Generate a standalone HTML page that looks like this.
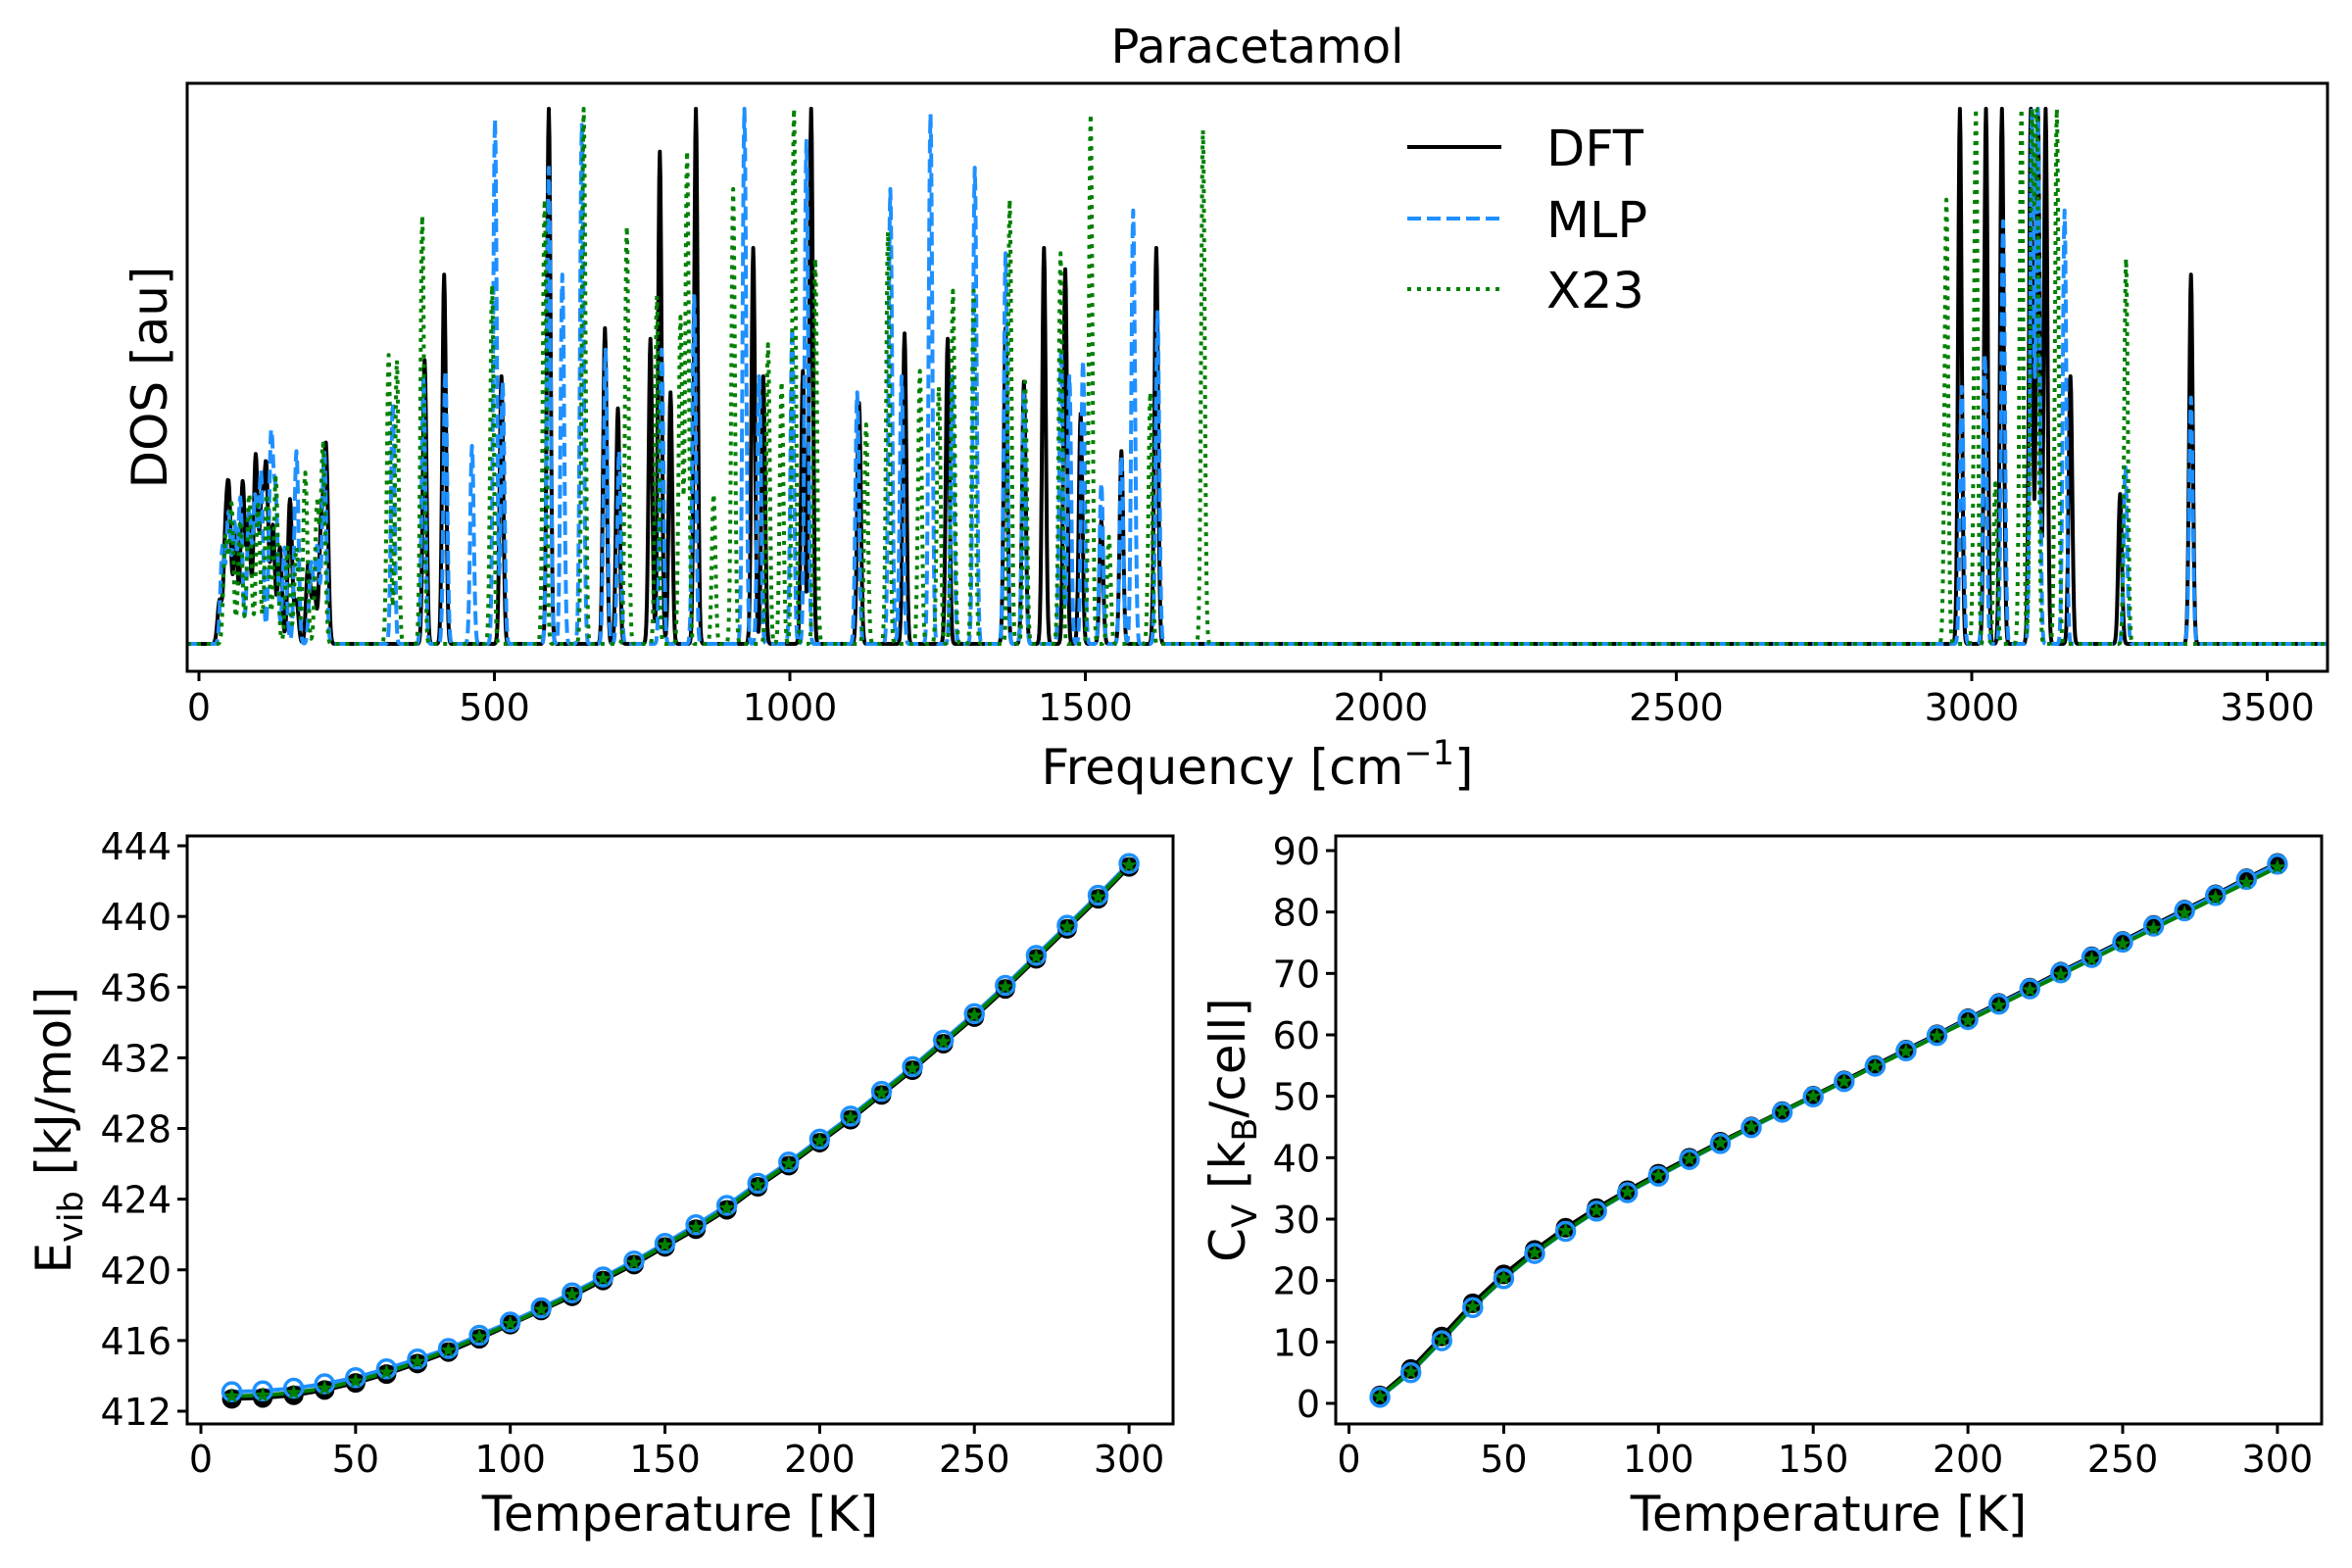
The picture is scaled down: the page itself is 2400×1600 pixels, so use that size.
<!DOCTYPE html>
<html><head><meta charset="utf-8"><style>
html,body{margin:0;padding:0;background:#fff;}
svg{display:block;font-family:"DejaVu Sans","Liberation Sans",sans-serif;}
</style></head><body>
<svg id="fig" xmlns="http://www.w3.org/2000/svg" width="2400" height="1600" viewBox="0 0 2400 1600">
<rect width="2400" height="1600" fill="#fff"/>
<defs>
<clipPath id="clipTop"><rect x="191" y="86" width="2184" height="598"/></clipPath>
<clipPath id="clipL"><rect x="191" y="853" width="1006" height="600"/></clipPath>
<clipPath id="clipR"><rect x="1363" y="853" width="1006" height="600"/></clipPath>
</defs>
<text x="1283" y="64" font-size="48" text-anchor="middle">Paracetamol</text>
<g id="dosLines" clip-path="url(#clipTop)"></g>
<rect x="191" y="85" width="2184" height="600" fill="none" stroke="#000" stroke-width="3"/>
<g id="dosTicks"></g>
<text x="1283" y="800" font-size="50" text-anchor="middle">Frequency [cm<tspan dy="-20" font-size="35">−1</tspan><tspan dy="20">]</tspan></text>
<text transform="translate(170,385) rotate(-90)" font-size="50" text-anchor="middle">DOS [au]</text>
<g>
<line x1="1436" y1="150" x2="1532" y2="150" stroke="#000" stroke-width="4"/>
<text x="1578" y="169" font-size="51">DFT</text>
<line x1="1436" y1="223" x2="1532" y2="223" stroke="#1e90ff" stroke-width="4" stroke-dasharray="14,6"/>
<text x="1578" y="242" font-size="51">MLP</text>
<line x1="1436" y1="295" x2="1532" y2="295" stroke="#008000" stroke-width="4" stroke-dasharray="4,6"/>
<text x="1578" y="314" font-size="51">X23</text>
</g>
<g id="leftPlot" clip-path="url(#clipL)"></g>
<rect x="191" y="853" width="1006" height="600" fill="none" stroke="#000" stroke-width="3"/>
<g id="leftTicks"></g>
<text x="694" y="1562" font-size="50" text-anchor="middle">Temperature [K]</text>
<text transform="translate(72,1153) rotate(-90)" font-size="50" text-anchor="middle">E<tspan dy="12" font-size="35">vib</tspan><tspan dy="-12"> [kJ/mol]</tspan></text>
<g id="rightPlot" clip-path="url(#clipR)"></g>
<rect x="1363" y="853" width="1006" height="600" fill="none" stroke="#000" stroke-width="3"/>
<g id="rightTicks"></g>
<text x="1866" y="1562" font-size="50" text-anchor="middle">Temperature [K]</text>
<text transform="translate(1270,1153) rotate(-90)" font-size="50" text-anchor="middle">C<tspan dy="12" font-size="35">V</tspan><tspan dy="-12"> [k</tspan><tspan dy="12" font-size="35">B</tspan><tspan dy="-12">/cell]</tspan></text>
</svg>
<script>
// ---- DOS data: peak frequencies (cm-1) and relative heights ----
const dftFreq = [35,45,51,62,74,84,96,106,114,125,137,154,165,185,195,207,215,
 382,415,512,592,687,709,764,780,798,841,938,955,1022,1036,1117,1194,1267,1365,1396,1430,1466,1492,1527,1561,1620,
 2980,3024,3051,3100,3112,3125,3167,3251,3371];
const dftHeight = [.08,.18,.25,.2,.3,.22,.35,.25,.32,.22,.18,.27,.08,.15,.1,.22,.36,
 .53,.69,.5,1.0,.59,.44,.57,.92,.47,1.0,.74,.5,.51,1.0,.45,.58,.57,.59,.49,.74,.7,.43,.23,.36,.74,
 1.0,1.0,1.0,1.0,1.0,1.0,.5,.28,.69];
const mlpFreq = [40,50,60,70,85,95,105,122,130,145,165,190,200,212,
 328,380,417,462,501,514,592,615,648,688,711,783,838,923,948,1004,1028,1114,1170,1189,1238,1275,1313,1365,1396,1459,1473,1496,1527,1561,1581,1622,
 2983,3022,3053,3102,3112,3157,3260,3371];
const mlpHeight = [.18,.24,.22,.27,.25,.27,.32,.38,.26,.18,.36,.15,.18,.36,
 .45,.5,.51,.37,.98,.49,.89,.69,.97,.55,.36,.55,.65,1.0,.5,.59,.94,.47,.85,.5,.99,.5,.89,.73,.47,.55,.5,.53,.3,.35,.81,.62,
 .48,.54,.79,1.0,1.0,.81,.33,.46];
const x23Freq = [45,55,70,85,100,115,130,150,165,180,200,210,
 321,335,378,496,585,651,724,775,815,826,871,904,963,986,1007,1043,1129,1166,1220,1252,1276,1311,1372,1398,1458,1509,1540,1610,1699,
 2957,3007,3040,3084,3102,3110,3144,3261];
const x23Height = [.2,.26,.23,.28,.26,.28,.31,.18,.18,.32,.26,.37,
 .54,.53,.8,.67,.83,1.0,.78,.65,.61,.92,.28,.85,.56,.49,1.0,.72,.41,.77,.51,.48,.66,.66,.83,.49,.73,.99,.2,.47,.96,
 .83,1.0,.3,1.0,1.0,1.0,1.0,.72];
const dosTickValues = [0,500,1000,1500,2000,2500,3000,3500];

// ---- Thermo data ----
const temps = [10,20,30,40,50,60,70,80,90,100,110,120,130,140,150,160,170,180,190,200,210,220,230,240,250,260,270,280,290,300];
const evibDFT = [412.7,412.75,412.9,413.2,413.6,414.1,414.7,415.35,416.1,416.9,417.7,418.5,419.4,420.3,421.3,422.3,423.4,424.7,425.9,427.2,428.5,429.9,431.3,432.8,434.3,435.9,437.6,439.3,441.0,442.8];
const evibMLP = [413.1,413.15,413.3,413.55,413.9,414.4,414.95,415.55,416.3,417.05,417.85,418.7,419.6,420.5,421.5,422.55,423.65,424.9,426.1,427.4,428.7,430.1,431.5,433.0,434.5,436.1,437.8,439.5,441.2,443.0];
const evibX23 = [412.85,412.9,413.05,413.3,413.7,414.2,414.8,415.45,416.2,416.95,417.75,418.6,419.5,420.4,421.4,422.4,423.5,424.8,426.0,427.3,428.6,430.0,431.4,432.9,434.4,436.0,437.7,439.4,441.1,442.9];
const cvDFT = [1.3,5.6,10.9,16.3,21.0,25.0,28.6,31.8,34.7,37.4,40.0,42.6,45.1,47.6,50.1,52.6,55.1,57.6,60.1,62.7,65.2,67.7,70.3,72.8,75.3,77.9,80.4,82.9,85.5,88.0];
const cvMLP = [1.0,5.0,10.2,15.6,20.3,24.4,28.0,31.3,34.3,37.0,39.7,42.3,44.9,47.4,49.9,52.4,54.9,57.4,59.9,62.5,65.0,67.5,70.1,72.6,75.1,77.7,80.2,82.7,85.3,87.8];
const cvX23 = [1.1,5.1,10.3,15.7,20.4,24.5,28.1,31.4,34.4,37.1,39.8,42.4,45.0,47.5,50.0,52.4,54.9,57.3,59.8,62.3,64.8,67.3,69.8,72.3,74.8,77.3,79.8,82.3,84.8,87.3];
const evibTicks = [412,416,420,424,428,432,436,440,444];
const cvTicks = [0,10,20,30,40,50,60,70,80,90];
const tempTicks = [0,50,100,150,200,250,300];

const NS = "http://www.w3.org/2000/svg";
function mk(tag, attrs, parent){ const e=document.createElementNS(NS,tag); for(const k in attrs) e.setAttribute(k,attrs[k]); parent.appendChild(e); return e; }

// DOS axes
const dosX = f => 203 + f * (301.5/500);
const dosY = h => 657 - h * 546;
const dosG = document.getElementById('dosLines');
function dosCurve(freqs, heights){
  let pts = [];
  for(let f=-20; f<=3610; f+=1){
    let s=0;
    for(let i=0;i<freqs.length;i++){
      const sig = freqs[i] < 250 ? 3.5 : 3;
      const d=(f-freqs[i])/sig; if(Math.abs(d)<6) s+=heights[i]*Math.exp(-0.5*d*d);
    }
    if(s>1) s=1;
    pts.push(dosX(f).toFixed(1)+","+dosY(s).toFixed(1));
  }
  return pts.join(" ");
}
const series = [
  {f:dftFreq,h:dftHeight,c:"#000",dash:"",name:"dos-line-dft"},
  {f:mlpFreq,h:mlpHeight,c:"#1e90ff",dash:"14,6",name:"dos-line-mlp"},
  {f:x23Freq,h:x23Height,c:"#008000",dash:"4,6",name:"dos-line-x23"}
];
series.forEach(s=>{
  const p = mk('polyline',{points:dosCurve(s.f,s.h),fill:"none",stroke:s.c,"stroke-width":4,"stroke-dasharray":s.dash,"stroke-linejoin":"round"},dosG);
  
  
});
const dosT = document.getElementById('dosTicks');
dosTickValues.forEach(v=>{
  const x=dosX(v);
  const l=mk('line',{x1:x,y1:685,x2:x,y2:695,stroke:"#000","stroke-width":3},dosT);
  
  
  const t=mk('text',{x:x,y:735,"font-size":38,"text-anchor":"middle"},dosT);
  
  
  t.textContent=v;
});

function drawThermo(gId, tId, xf, yf, yTicks, left, dft, mlp, x23, prefix){
  const g=document.getElementById(gId), tg=document.getElementById(tId);
  const path = arr => temps.map((t,i)=>xf(t).toFixed(1)+","+yf(arr[i]).toFixed(1)).join(" ");
  const sets=[{a:dft,c:"#000",n:"dft"},{a:mlp,c:"#1e90ff",n:"mlp"},{a:x23,c:"#008000",n:"x23"}];
  sets.forEach(s=>{
    const pl=mk('polyline',{points:path(s.a),fill:"none",stroke:s.c,"stroke-width":4},g);
    
    
  });
  temps.forEach((t,i)=>{
    const c1=mk('circle',{cx:xf(t),cy:yf(dft[i]),r:10,fill:"#000"},g);
    
    
  });
  temps.forEach((t,i)=>{
    const c2=mk('circle',{cx:xf(t),cy:yf(mlp[i]),r:9,fill:"none",stroke:"#1e90ff","stroke-width":3.5},g);
    
    
  });
  temps.forEach((t,i)=>{
    const cx=xf(t), cy=yf(x23[i]); let pts=[];
    for(let k=0;k<10;k++){ const r=k%2?3.5:8.5, a=-Math.PI/2+k*Math.PI/5; pts.push((cx+r*Math.cos(a)).toFixed(1)+","+(cy+r*Math.sin(a)).toFixed(1)); }
    const st=mk('polygon',{points:pts.join(" "),fill:"#008000"},g);
    
    
  });
  tempTicks.forEach(v=>{
    const x=xf(v);
    const l=mk('line',{x1:x,y1:1453,x2:x,y2:1463,stroke:"#000","stroke-width":3},tg);
    
    
    const t=mk('text',{x:x,y:1502,"font-size":38,"text-anchor":"middle"},tg);
    
    
    t.textContent=v;
  });
  yTicks.forEach(v=>{
    const y=yf(v);
    const l=mk('line',{x1:left-10,y1:y,x2:left,y2:y,stroke:"#000","stroke-width":3},tg);
    
    
    const t=mk('text',{x:left-16,y:y+14,"font-size":38,"text-anchor":"end"},tg);
    
    
    t.textContent=v;
  });
}
drawThermo('leftPlot','leftTicks', t=>205+t*3.157, v=>1440-(v-412)*18.03, evibTicks, 191, evibDFT, evibMLP, evibX23, 'evib');
drawThermo('rightPlot','rightTicks', t=>1376.5+t*3.158, v=>1432-v*6.267, cvTicks, 1363, cvDFT, cvMLP, cvX23, 'cv');
</script>
</body></html>
